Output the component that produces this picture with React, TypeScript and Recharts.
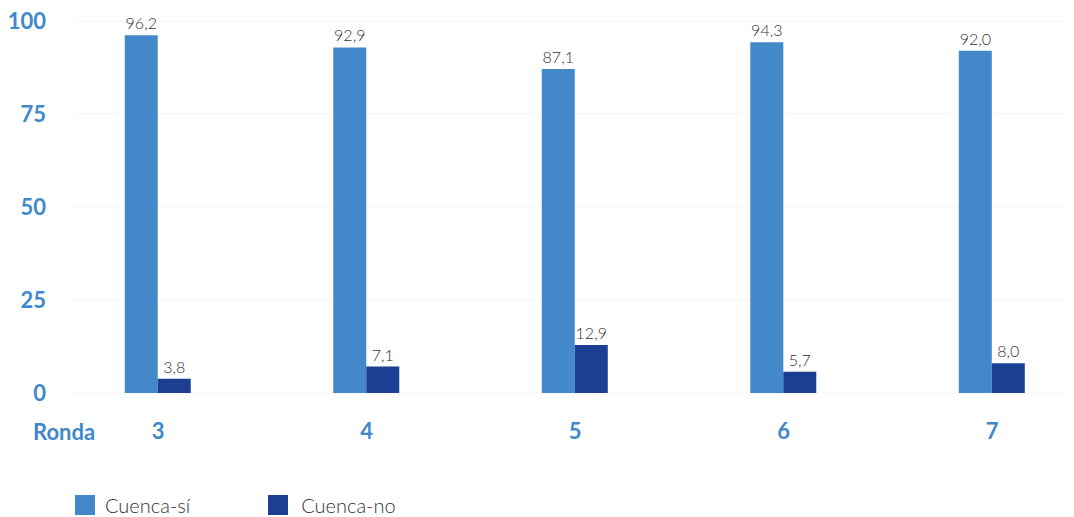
import React from 'react';
import { BarChart, Bar, XAxis, YAxis, CartesianGrid, LabelList, Legend, Label } from 'recharts';

const rondas = [3, 4, 5, 6, 7];
const cuencaSi = [96.2, 92.9, 87.1, 94.3, 92.0];
const cuencaNo = [3.8, 7.1, 12.9, 5.7, 8.0];
const yTicks = [0, 25, 50, 75, 100];
const seriesNames = ['Cuenca-sí', 'Cuenca-no'];

const data = rondas.map((r, i) => ({ ronda: r, si: cuencaSi[i], no: cuencaNo[i] }));

const LIGHT = '#4389CA';
const DARK = '#1C3F93';
const AXIS_BLUE = '#3F88C9';
const FONT = 'Lato, "Open Sans", sans-serif';

const fmt = (v: number) => v.toFixed(1).replace('.', ',');

const renderLegend = () => (
  <div style={{ height: 54, boxSizing: 'border-box', paddingTop: 32, display: 'flex', alignItems: 'flex-start', fontFamily: FONT, fontSize: 20, color: '#333', fontWeight: 300, lineHeight: '20px' }}>
    <span style={{ display: 'inline-block', width: 20, height: 20, background: LIGHT, marginLeft: 67 }} />
    <span style={{ marginLeft: 10 }}>{seriesNames[0]}</span>
    <span style={{ display: 'inline-block', width: 20, height: 20, background: DARK, marginLeft: 78 }} />
    <span style={{ marginLeft: 13 }}>{seriesNames[1]}</span>
  </div>
);

export default function App() {
  return (
    <div style={{ width: 1066, height: 509 }}>
      <BarChart
        width={1066}
        height={509}
        data={data}
        margin={{ top: 13, right: 0, bottom: 0, left: 5 }}
        barGap={0}
      >
        <CartesianGrid vertical={false} stroke="#f5f5f5" />
        <XAxis
          dataKey="ronda"
          type="number"
          domain={[2.5923, 7.393]}
          allowDataOverflow
          ticks={rondas}
          axisLine={false}
          tickLine={false}
          tickSize={0}
          tickMargin={30}
          height={70}
          tick={{ fill: AXIS_BLUE, fontSize: 22, fontWeight: 700, fontFamily: FONT }}
        >
          <Label
            content={(props: any) => {
              const vb = props.viewBox || {};
              return (
                <text
                  x={vb.x - 40}
                  y={vb.y + 47}
                  fill={AXIS_BLUE}
                  fontSize={22}
                  fontWeight={700}
                  fontFamily={FONT}
                >
                  Ronda
                </text>
              );
            }}
          />
        </XAxis>
        <YAxis
          domain={[0, 100]}
          ticks={yTicks}
          width={60}
          axisLine={false}
          tickLine={false}
          tickSize={0}
          tickMargin={27}
          tick={{ fill: AXIS_BLUE, fontSize: 22, fontWeight: 700, fontFamily: FONT }}
        />
        <Legend
          verticalAlign="bottom"
          align="left"
          height={54}
          content={renderLegend}
          wrapperStyle={{ left: 0, bottom: 0 }}
        />
        <Bar dataKey="si" name={seriesNames[0]} fill={LIGHT} barSize={33} isAnimationActive={false}>
          <LabelList dataKey="si" position="top" offset={6} formatter={(v: any) => fmt(Number(v))} style={{ fill: '#333', fontSize: 16, fontFamily: FONT, fontWeight: 300 }} />
        </Bar>
        <Bar dataKey="no" name={seriesNames[1]} fill={DARK} barSize={33} isAnimationActive={false}>
          <LabelList dataKey="no" position="top" offset={6} formatter={(v: any) => fmt(Number(v))} style={{ fill: '#333', fontSize: 16, fontFamily: FONT, fontWeight: 300 }} />
        </Bar>
      </BarChart>
    </div>
  );
}
